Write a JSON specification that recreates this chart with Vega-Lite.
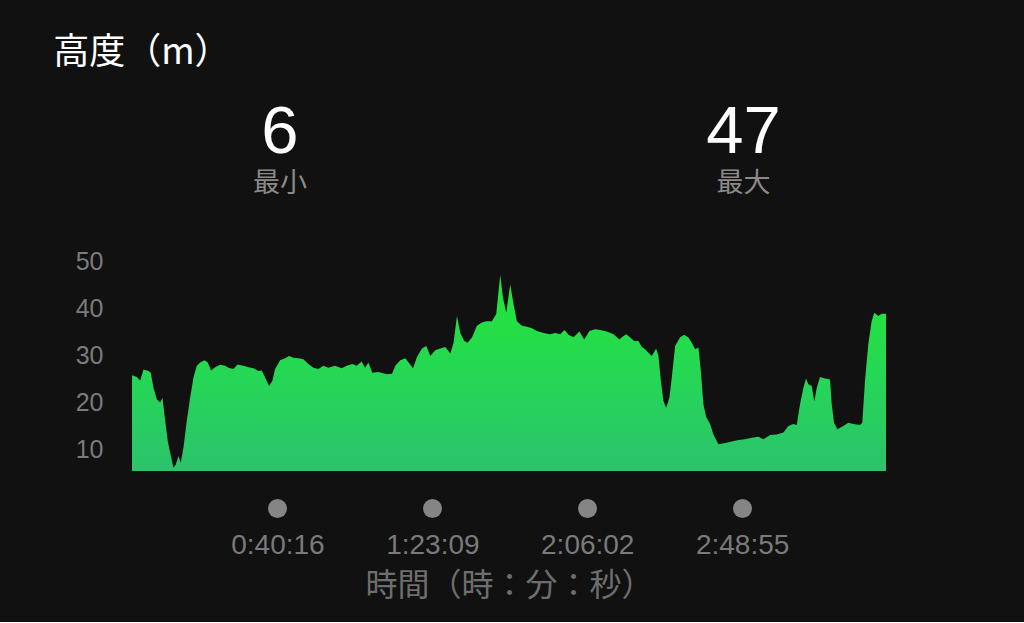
{
  "$schema": "https://vega.github.io/schema/vega-lite/v6.json",
  "background": "#111111",
  "padding": {"left": 53, "top": 35, "right": 140, "bottom": 20},
  "bounds": "flush",
  "spacing": 69,
  "title": {"text": "高度（m）", "anchor": "start", "frame": "bounds", "dx": -22, "offset": 27, "font": "Noto Sans CJK JP", "fontSize": 36, "fontWeight": "normal", "color": "#ffffff"},
  "config": {"view": {"stroke": null}},
  "vconcat": [
    {
      "width": 754,
      "height": 39,
      "data": {"values": [
        {"t": 2457, "kind": "num", "text": "6"},
        {"t": 2457, "kind": "label", "text": "最小"},
        {"t": 10159, "kind": "num", "text": "47"},
        {"t": 10159, "kind": "label", "text": "最大"}
      ]},
      "encoding": {
        "x": {"field": "t", "type": "quantitative", "scale": {"domain": [0, 12525], "nice": false, "zero": false}, "axis": null},
        "y": {"field": "kind", "type": "nominal", "scale": {"type": "point", "domain": ["num", "label"], "padding": 0}, "axis": null},
        "text": {"field": "text"}
      },
      "layer": [
        {
          "transform": [{"filter": "datum.kind === 'num'"}],
          "mark": {"type": "text", "font": "Liberation Sans", "fontSize": 67, "color": "#ffffff", "align": "center", "baseline": "alphabetic"}
        },
        {
          "transform": [{"filter": "datum.kind === 'label'"}],
          "mark": {"type": "text", "font": "Noto Sans CJK JP", "fontSize": 27, "color": "#8a8a8a", "align": "center", "baseline": "alphabetic"}
        }
      ]
    },
    {
      "width": 754,
      "height": 210,
      "data": {"values": [
        {"t":0,"alt":25.7},{"t":80,"alt":25.3},{"t":136,"alt":24.6},{"t":191,"alt":26.9},{"t":274,"alt":26.6},{"t":312,"alt":26.2},{"t":357,"alt":23.0},{"t":412,"alt":20.6},{"t":468,"alt":19.9},{"t":506,"alt":20.9},{"t":551,"alt":16.0},{"t":594,"alt":11.7},{"t":634,"alt":9.2},{"t":689,"alt":6.0},{"t":727,"alt":6.7},{"t":772,"alt":8.5},{"t":810,"alt":7.1},{"t":855,"alt":10.3},{"t":910,"alt":16.0},{"t":966,"alt":20.9},{"t":1021,"alt":25.2},{"t":1076,"alt":27.7},{"t":1132,"alt":28.4},{"t":1204,"alt":28.9},{"t":1258,"alt":28.4},{"t":1315,"alt":26.7},{"t":1381,"alt":27.4},{"t":1464,"alt":27.9},{"t":1547,"alt":27.7},{"t":1602,"alt":27.3},{"t":1685,"alt":27.0},{"t":1756,"alt":28.0},{"t":1851,"alt":27.7},{"t":1934,"alt":27.4},{"t":2017,"alt":27.2},{"t":2100,"alt":26.6},{"t":2155,"alt":26.7},{"t":2211,"alt":25.2},{"t":2278,"alt":23.4},{"t":2332,"alt":24.5},{"t":2377,"alt":27.0},{"t":2460,"alt":28.9},{"t":2543,"alt":29.3},{"t":2610,"alt":29.8},{"t":2681,"alt":29.4},{"t":2764,"alt":29.3},{"t":2847,"alt":29.1},{"t":2930,"alt":28.1},{"t":3013,"alt":27.3},{"t":3096,"alt":27.0},{"t":3179,"alt":27.7},{"t":3262,"alt":27.3},{"t":3373,"alt":27.7},{"t":3483,"alt":27.2},{"t":3566,"alt":27.7},{"t":3660,"alt":28.1},{"t":3732,"alt":27.7},{"t":3815,"alt":28.6},{"t":3871,"alt":27.3},{"t":3926,"alt":28.4},{"t":3992,"alt":26.2},{"t":4092,"alt":26.4},{"t":4203,"alt":26.0},{"t":4236,"alt":25.9},{"t":4319,"alt":26.0},{"t":4374,"alt":27.7},{"t":4457,"alt":28.9},{"t":4540,"alt":29.3},{"t":4595,"alt":28.4},{"t":4668,"alt":27.2},{"t":4734,"alt":29.6},{"t":4817,"alt":31.4},{"t":4889,"alt":31.9},{"t":4955,"alt":29.8},{"t":5038,"alt":31.0},{"t":5121,"alt":31.4},{"t":5204,"alt":31.7},{"t":5287,"alt":30.3},{"t":5342,"alt":32.6},{"t":5398,"alt":38.3},{"t":5453,"alt":34.7},{"t":5520,"alt":33.0},{"t":5574,"alt":32.6},{"t":5647,"alt":33.7},{"t":5730,"alt":36.2},{"t":5813,"alt":36.9},{"t":5885,"alt":37.2},{"t":5979,"alt":37.2},{"t":6051,"alt":38.7},{"t":6117,"alt":47.0},{"t":6162,"alt":42.2},{"t":6217,"alt":39.0},{"t":6283,"alt":45.0},{"t":6338,"alt":40.8},{"t":6394,"alt":37.2},{"t":6477,"alt":36.2},{"t":6560,"alt":36.0},{"t":6643,"alt":35.7},{"t":6726,"alt":35.1},{"t":6836,"alt":34.7},{"t":6947,"alt":34.4},{"t":7030,"alt":34.7},{"t":7113,"alt":34.4},{"t":7184,"alt":35.3},{"t":7251,"alt":34.3},{"t":7334,"alt":33.8},{"t":7433,"alt":35.0},{"t":7512,"alt":33.3},{"t":7599,"alt":35.1},{"t":7694,"alt":35.5},{"t":7777,"alt":35.3},{"t":7888,"alt":35.0},{"t":7998,"alt":34.4},{"t":8097,"alt":33.3},{"t":8137,"alt":33.8},{"t":8209,"alt":34.4},{"t":8275,"alt":33.7},{"t":8342,"alt":33.0},{"t":8413,"alt":33.0},{"t":8469,"alt":31.7},{"t":8524,"alt":31.2},{"t":8579,"alt":30.5},{"t":8635,"alt":29.8},{"t":8707,"alt":31.4},{"t":8745,"alt":29.8},{"t":8785,"alt":24.5},{"t":8828,"alt":20.2},{"t":8873,"alt":18.8},{"t":8927,"alt":20.9},{"t":8967,"alt":25.2},{"t":9022,"alt":31.9},{"t":9105,"alt":33.8},{"t":9172,"alt":34.3},{"t":9243,"alt":33.7},{"t":9299,"alt":32.6},{"t":9354,"alt":31.2},{"t":9409,"alt":31.6},{"t":9449,"alt":26.6},{"t":9492,"alt":19.5},{"t":9537,"alt":16.8},{"t":9603,"alt":15.3},{"t":9658,"alt":13.1},{"t":9741,"alt":11.0},{"t":9852,"alt":11.3},{"t":9963,"alt":11.6},{"t":10073,"alt":11.9},{"t":10184,"alt":12.1},{"t":10295,"alt":12.4},{"t":10405,"alt":12.6},{"t":10488,"alt":12.1},{"t":10599,"alt":13.0},{"t":10710,"alt":13.1},{"t":10820,"alt":13.5},{"t":10903,"alt":14.9},{"t":10986,"alt":15.3},{"t":11042,"alt":15.1},{"t":11097,"alt":19.5},{"t":11152,"alt":23.0},{"t":11197,"alt":25.0},{"t":11235,"alt":23.8},{"t":11291,"alt":23.4},{"t":11334,"alt":20.1},{"t":11374,"alt":23.0},{"t":11429,"alt":25.3},{"t":11512,"alt":25.0},{"t":11595,"alt":24.8},{"t":11623,"alt":19.5},{"t":11662,"alt":15.6},{"t":11716,"alt":14.2},{"t":11816,"alt":14.9},{"t":11899,"alt":15.6},{"t":11982,"alt":15.3},{"t":12093,"alt":15.1},{"t":12131,"alt":15.6},{"t":12176,"alt":24.5},{"t":12231,"alt":32.3},{"t":12287,"alt":37.2},{"t":12330,"alt":39.0},{"t":12397,"alt":38.3},{"t":12453,"alt":38.8},{"t":12525,"alt":38.8}
      ]},
      "mark": {
        "type": "area",
        "clip": true,
        "color": {
          "gradient": "linear",
          "x1": 0, "y1": 0, "x2": 0, "y2": 1,
          "stops": [
            {"offset": 0, "color": "#22e636"},
            {"offset": 0.5, "color": "#26d558"},
            {"offset": 1, "color": "#2dbd72"}
          ]
        }
      },
      "encoding": {
        "x": {
          "field": "t", "type": "quantitative",
          "scale": {"domain": [0, 12525], "nice": false, "zero": false},
          "axis": {
            "values": [2416, 4989, 7562, 10135],
            "labelExpr": "utcFormat(datum.value * 1000, '%-H:%M:%S')",
            "offset": 37,
            "ticks": true, "tickSize": 0.1, "tickWidth": 19, "tickCap": "round", "tickColor": "#858585",
            "domain": false, "grid": false,
            "labelPadding": 23, "labelFontSize": 28, "labelFont": "Liberation Sans", "labelColor": "#7a7a7a",
            "labelFlush": false, "labelOverlap": false,
            "title": "時間（時：分：秒）", "titleFont": "Noto Sans CJK JP", "titleFontSize": 32,
            "titleFontWeight": "normal", "titleColor": "#6e6e6e", "titlePadding": 11
          }
        },
        "y": {
          "field": "alt", "type": "quantitative",
          "scale": {"domain": [5.32, 50], "nice": false, "zero": false},
          "axis": {
            "values": [10, 20, 30, 40, 50],
            "domain": false, "ticks": false, "grid": false,
            "labelPadding": 29, "labelFontSize": 25, "labelFont": "Liberation Sans", "labelColor": "#7b7b7b",
            "title": null
          }
        }
      }
    }
  ]
}
